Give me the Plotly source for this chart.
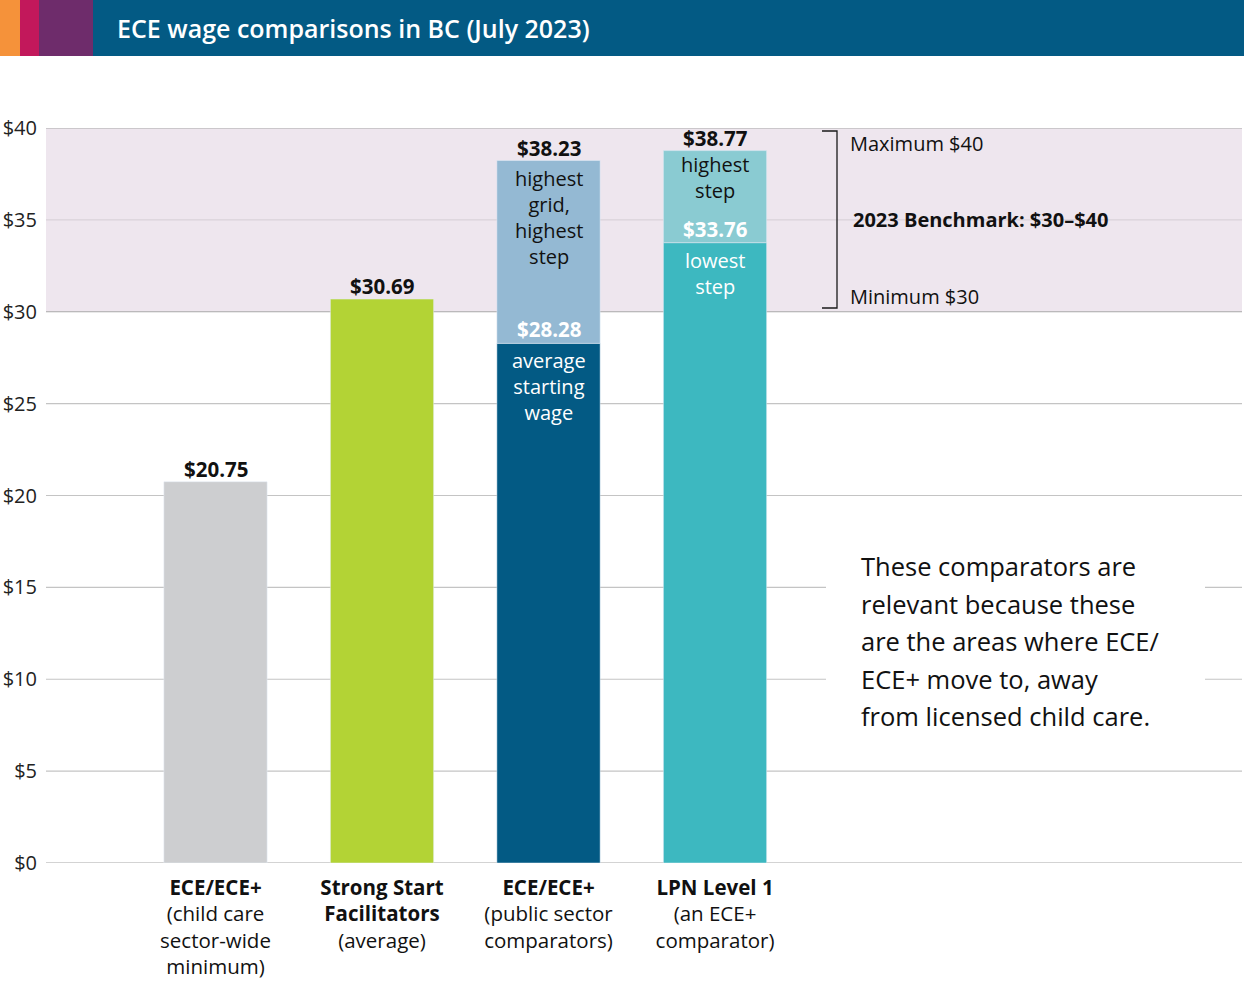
import plotly.graph_objects as go

# ---- data ----
categories = [
    "<b>ECE/ECE+</b><br>(child care<br>sector-wide<br>minimum)",
    "<b>Strong Start</b><br><b>Facilitators</b><br>(average)",
    "<b>ECE/ECE+</b><br>(public sector<br>comparators)",
    "<b>LPN Level 1</b><br>(an ECE+<br>comparator)",
]
low_wage = [20.75, 30.69, 28.28, 33.76]      # single value / lower step
high_wage = [None, None, 38.23, 38.77]       # upper step where there is one
low_colors = ["#CDCED0", "#B3D335", "#035A84", "#3DB8C0"]
high_colors = ["#94B9D3", "#8ACBD2"]
low_notes = [None, None, "average<br>starting<br>wage", "lowest<br>step"]
high_notes = [None, None, "highest<br>grid,<br>highest<br>step", "highest<br>step"]
y_ticks = [0, 5, 10, 15, 20, 25, 30, 35, 40]
y_ticktext = ["$" + str(v) for v in y_ticks]
bench_min, bench_max = 30, 40
note_lines = [
    "These comparators are",
    "relevant because these",
    "are the areas where ECE/",
    "ECE+ move to, away",
    "from licensed child care.",
]

FONT = "Open Sans"
W, H = 1244, 981
L, R, T, B = 46, 2, 128, 118

def px_x(p):  # pixel -> paper x
    return (p - L) / (W - L - R)

def px_y(p):  # pixel -> paper y
    return (H - B - p) / (H - T - B)

xs = list(range(len(categories)))
fig = go.Figure()
fig.add_trace(go.Bar(x=xs, y=low_wage, marker_color=low_colors, width=0.62,
                     hoverinfo="skip", showlegend=False))
hx = [i for i in xs if high_wage[i] is not None]
fig.add_trace(go.Bar(x=hx, y=[high_wage[i] - low_wage[i] for i in hx],
                     base=[low_wage[i] for i in hx], width=0.62,
                     marker_color=high_colors, hoverinfo="skip", showlegend=False))

shapes = []
# benchmark band
shapes.append(dict(type="rect", xref="paper", yref="y", x0=0, x1=1, y0=bench_min, y1=bench_max,
                   fillcolor="#EEE6EE", line_width=0, layer="below"))
# grid lines
for v in y_ticks:
    if v in (bench_min, bench_max, 0):
        col = "#A8A8A8"
    elif bench_min < v < bench_max:
        col = "#D9D2D9"
    else:
        col = "#C4C4C4"
    shapes.append(dict(type="line", xref="paper", yref="y", x0=0, x1=1, y0=v, y1=v,
                       line=dict(color=col, width=1.2), layer="below"))
# white box behind the note
shapes.append(dict(type="rect", xref="paper", yref="paper", x0=px_x(826), x1=px_x(1205),
                   y0=px_y(745), y1=px_y(540), fillcolor="white", line_width=0, layer="below"))
# bracket
bx, bl = px_x(837), px_x(822)
yt, yb = px_y(131), px_y(308)
shapes.append(dict(type="path", xref="paper", yref="paper",
                   path=f"M {bl} {yt} L {bx} {yt} L {bx} {yb} L {bl} {yb}",
                   line=dict(color="#1a1a1a", width=1.3)))
# header band and stripes
shapes.append(dict(type="rect", xref="paper", yref="paper", x0=px_x(0), x1=px_x(W + 5),
                   y0=px_y(56), y1=px_y(-5), fillcolor="#035A84", line_width=0))
for c, a, b in [("#F5923A", 0, 20), ("#C2185B", 20, 39), ("#6E2C6B", 39, 93)]:
    shapes.append(dict(type="rect", xref="paper", yref="paper", x0=px_x(a), x1=px_x(b),
                       y0=px_y(56), y1=px_y(-5), fillcolor=c, line_width=0))

ann = []
ann.append(dict(text="ECE wage comparisons in BC (July 2023)", xref="paper", yref="paper",
                x=px_x(115), y=px_y(28), xanchor="left", yanchor="middle", showarrow=False,
                font=dict(family=FONT, size=25, color="white", weight=600)))
for i in xs:
    top = high_wage[i] if high_wage[i] is not None else low_wage[i]
    ann.append(dict(text="<b>$%.2f</b>" % top, x=i, y=top, yanchor="bottom", yshift=-3,
                    showarrow=False, font=dict(family=FONT, size=20.5, color="#111")))
    if high_wage[i] is not None:
        ann.append(dict(text="<b>$%.2f</b>" % low_wage[i], x=i, y=low_wage[i], yanchor="bottom",
                        yshift=-2, showarrow=False, font=dict(family=FONT, size=20.5, color="white")))
        ann.append(dict(text=high_notes[i], x=i, y=high_wage[i], yanchor="top",
                        yshift=-2 if i == 2 else 2,
                        showarrow=False, font=dict(family=FONT, size=20, color="#111")))
        ann.append(dict(text=low_notes[i], x=i, y=low_wage[i], yanchor="top", yshift=-2,
                        showarrow=False, font=dict(family=FONT, size=20, color="white")))

ann.append(dict(text="Maximum $40", xref="paper", yref="paper", x=px_x(848), y=px_y(143),
                xanchor="left", yanchor="middle", showarrow=False,
                font=dict(family=FONT, size=20, color="#111")))
ann.append(dict(text="<b>2023 Benchmark: $30–$40</b>", xref="paper", yref="paper", x=px_x(851),
                y=px_y(219), xanchor="left", yanchor="middle", showarrow=False,
                font=dict(family=FONT, size=20, color="#111")))
ann.append(dict(text="Minimum $30", xref="paper", yref="paper", x=px_x(848), y=px_y(296),
                xanchor="left", yanchor="middle", showarrow=False,
                font=dict(family=FONT, size=20, color="#111")))
for k, line in enumerate(note_lines):
    ann.append(dict(text=line, xref="paper", yref="paper", x=px_x(859), y=px_y(566 + 37.5 * k),
                    xanchor="left", yanchor="middle", showarrow=False,
                    font=dict(family=FONT, size=25.5, color="#111")))

fig.update_layout(
    width=W, height=H, margin=dict(l=L, r=R, t=T, b=B),
    plot_bgcolor="white", paper_bgcolor="white", barmode="overlay",
    font=dict(family=FONT, size=20, color="#111"),
    shapes=shapes, annotations=ann,
    xaxis=dict(range=[-1.018, 6.165], tickvals=xs, ticktext=categories, showgrid=False,
               zeroline=False, showline=False, ticks="", ticklabelstandoff=10,
               tickfont=dict(size=20.5, color="#111")),
    yaxis=dict(range=[0, 40], tickvals=y_ticks, ticktext=y_ticktext, showgrid=False,
               zeroline=False, showline=False, ticks="", ticklabelstandoff=8,
               tickfont=dict(size=20, color="#222")),
)
fig.write_html("out.html", config={"displayModeBar": False},
               post_script="document.body.style.margin='0';")
